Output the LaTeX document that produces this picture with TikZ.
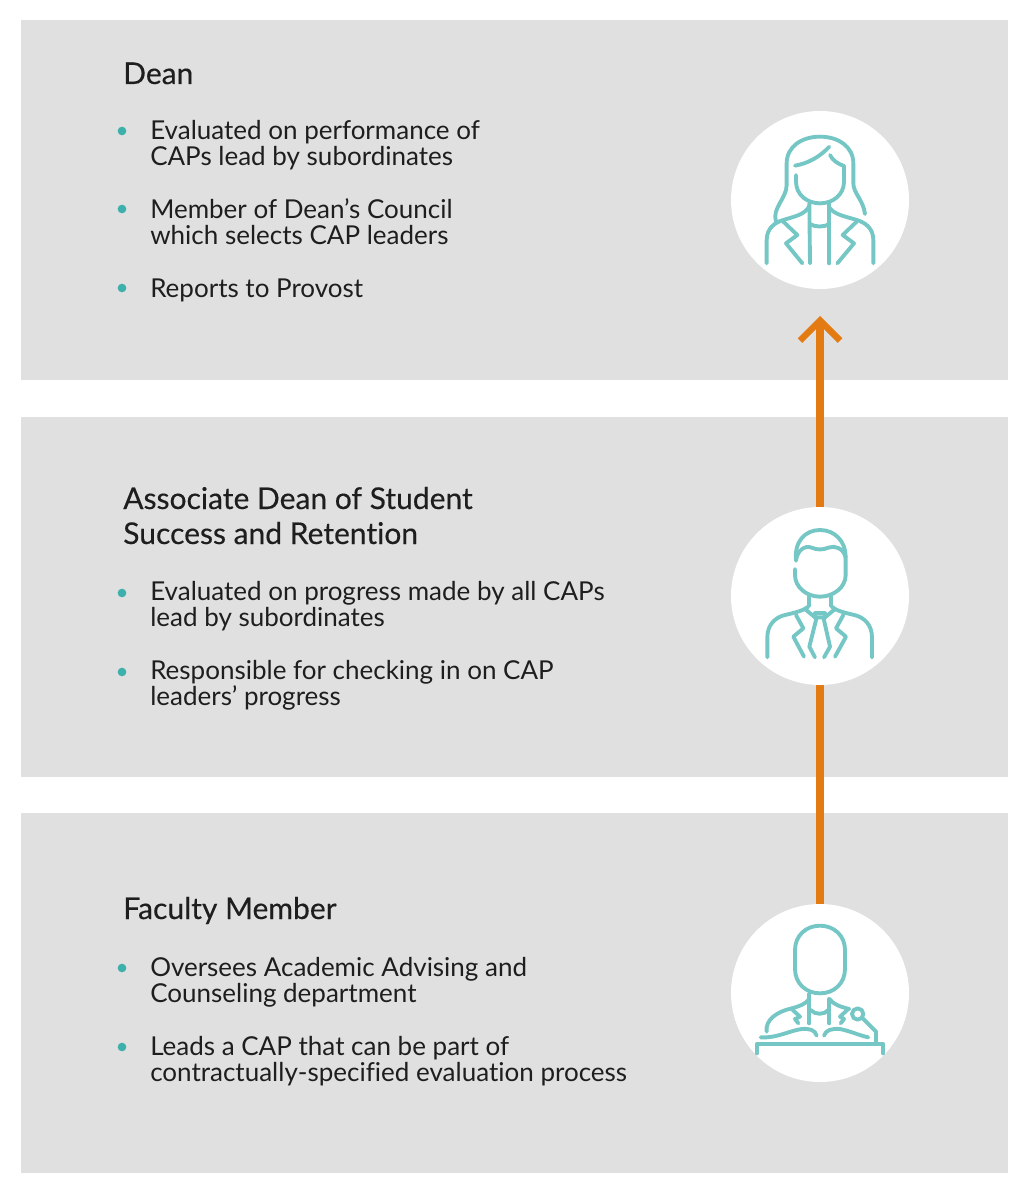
\documentclass[tikz,border=0pt]{standalone}
\usepackage{fontspec}
\setmainfont[Ligatures=NoCommon]{Lato}
\usepackage{tikz}
\usetikzlibrary{arrows.meta, positioning, backgrounds}
\definecolor{panelgray}{HTML}{E0E0E0}
\definecolor{icontealc}{HTML}{75C7C6}
\definecolor{bulletteal}{HTML}{3DB0AC}
\definecolor{ladderorange}{HTML}{E37A12}
\definecolor{textblack}{HTML}{1E1E1E}
\tikzset{
    panel/.style={rectangle, fill=panelgray, inner sep=0pt, minimum width=740.25pt, minimum height=270pt},
    disc/.style={circle, fill=white, inner sep=0pt, minimum size=133.5pt},
    heading/.style={anchor=base west, inner sep=0pt, align=left, text=textblack, font=\fontsize{22.5}{26}\selectfont\addfontfeature{FakeBold=0.3}},
    item/.style={anchor=base west, inner sep=0pt, align=left, text=textblack, font=\fontsize{19.5}{20}\selectfont},
    dot/.style={circle, fill=bulletteal, inner sep=0pt, minimum size=6.5pt},
    iconline/.style={draw=icontealc, line width=2.9pt, line cap=round, line join=round},
    iconbox/.style={shift={#1}, x=0.25pt, y=-0.25pt}
}
\begin{document}
\begin{tikzpicture}[x=0.75pt, y=-0.75pt]
    \useasboundingbox (0,0) rectangle (1028,1188);

    \node[disc] (dean) at (820,200) {};
    \node[disc] (assoc) at (820,596) {};
    \node[disc] (faculty) at (820,993) {};
    \coordinate (tip) at (820,316);

    \begin{scope}[on background layer]
        \fill[white] (0,0) rectangle (1028,1188);
        \node[panel] (deanpanel) at (514.5,200) {};
        \node[panel] (assocpanel) at (514.5,596.5) {};
        \node[panel] (facultypanel) at (514.5,992.5) {};
        \draw[ladderorange, line width=6pt, -{Straight Barb[length=15pt, width=30pt, line width=4.8pt]}] (faculty) -- (tip);
    \end{scope}

    % Dean
    \node[heading] (deanhead) at (123,84) {Dean};
    \node[dot] (d1) at (122,131) {};
    \node[item] (deanone) at (150,139.5) {Evaluated on performance of};
    \node[item] (deanonb) at (150,165.5) {CAPs lead by subordinates};
    \node[dot] (d2) at (122,209) {};
    \node[item] (deantwo) at (150,218.5) {Member of Dean’s Council};
    \node[item] (deantwb) at (150,244.5) {which selects CAP leaders};
    \node[dot] (d3) at (122,288) {};
    \node[item] (deanthree) at (150,297.5) {Reports to Provost};

    % Associate dean
    \node[heading] (assochead) at (123,509) {Associate Dean of Student};
    \node[heading] (assocheb) at (123,544) {Success and Retention};
    \node[dot] (a1) at (122,593) {};
    \node[item] (assocone) at (150,600.5) {Evaluated on progress made by all CAPs};
    \node[item] (assoconb) at (150,626.5) {lead by subordinates};
    \node[dot] (a2) at (122,672) {};
    \node[item] (assoctwo) at (150,679.5) {Responsible for checking in on CAP};
    \node[item] (assoctwb) at (150,705.5) {leaders’ progress};

    % Faculty member
    \node[heading] (facultyhead) at (123,919) {Faculty Member};
    \node[dot] (f1) at (122,968) {};
    \node[item] (facultyone) at (150,976.5) {Oversees Academic Advising and};
    \node[item] (facultyonb) at (150,1002.5) {Counseling department};
    \node[dot] (f2) at (122,1047) {};
    \node[item] (facultytwo) at (150,1055.5) {Leads a CAP that can be part of};
    \node[item] (facultytwb) at (150,1081.5) {contractually-specified evaluation process};

    % Icons
    \begin{scope}[iconbox={(720,100)}]
        \draw[iconline] (140,490) -- (140,420) .. controls (140,385) and (165,367) .. (190,360) .. controls (220,350) and (255,345) .. (268,318);
        \draw[iconline] (460,490) -- (460,420) .. controls (460,385) and (435,367) .. (410,360) .. controls (380,350) and (345,345) .. (330,325);
        \draw[iconline] (268,310) -- (270,490);
        \draw[iconline] (328,310) -- (328,490);
        \draw[iconline] (270,372) .. controls (285,382) and (313,382) .. (328,372);
        \draw[iconline] (190,365) -- (232,405) -- (198,430) -- (247,490);
        \draw[iconline] (410,365) -- (368,405) -- (402,430) -- (352,490);
        \draw[iconline] (228,225) -- (228,245) .. controls (228,285) and (262,310) .. (300,310) .. controls (338,310) and (372,285) .. (372,245) -- (372,198) .. controls (355,192) and (338,182) .. (330,165);
        \draw[iconline] (225,197) .. controls (265,190) and (300,170) .. (328,140);
        \draw[iconline] (168,365) .. controls (155,325) and (200,295) .. (200,255) -- (200,190) .. controls (200,140) and (245,110) .. (300,110) .. controls (355,110) and (400,140) .. (400,190) -- (400,250) .. controls (400,280) and (430,300) .. (435,342);
    \end{scope}
    \begin{scope}[iconbox={(720,500)}]
        \draw[iconline] (228,182) .. controls (222,125) and (255,90) .. (300,90) .. controls (345,90) and (377,125) .. (377,170) -- (377,225) .. controls (377,262) and (340,290) .. (300,290) .. controls (260,290) and (225,262) .. (225,225) -- (225,207);
        \draw[iconline] (228,182) .. controls (232,150) and (255,135) .. (275,143) .. controls (290,150) and (310,150) .. (325,143) .. controls (345,135) and (370,145) .. (377,172);
        \draw[iconline] (268,290) -- (268,317);
        \draw[iconline] (332,290) -- (332,317);
        \draw[iconline] (142,472) -- (142,412) .. controls (142,375) and (165,352) .. (195,345) .. controls (225,338) and (250,332) .. (265,320);
        \draw[iconline] (456,472) -- (456,412) .. controls (456,375) and (433,352) .. (403,345) .. controls (373,338) and (348,332) .. (335,320);
        \draw[iconline] (256,328) -- (285,352) -- (315,352) -- (344,328);
        \draw[iconline] (285,352) -- (285,340) -- (315,340) -- (315,352);
        \draw[iconline] (290,352) -- (268,440) -- (285,472);
        \draw[iconline] (310,352) -- (330,440) -- (312,472);
        \draw[iconline] (228,345) -- (250,385) -- (220,410) -- (252,470);
        \draw[iconline] (370,345) -- (348,385) -- (378,410) -- (345,470);
    \end{scope}
    \begin{scope}[iconbox={(720,895)}]
        \draw[iconline] (225,165) .. controls (225,122) and (258,92) .. (300,92) .. controls (342,92) and (375,122) .. (375,165) -- (375,222) .. controls (375,265) and (342,295) .. (300,295) .. controls (258,295) and (225,265) .. (225,222) -- cycle;
        \draw[iconline] (268,297) -- (268,385);
        \draw[iconline] (328,312) -- (328,385);
        \draw[iconline] (272,345) .. controls (285,360) and (313,360) .. (325,345);
        \draw[iconline] (140,410) .. controls (135,375) and (170,350) .. (215,340) .. controls (240,333) and (255,328) .. (268,312);
        \draw[iconline] (328,312) .. controls (340,328) and (360,335) .. (388,342);
        \draw[iconline] (215,342) -- (240,365) -- (225,372) -- (235,385);
        \draw[iconline] (385,342) -- (360,365) -- (372,372) -- (362,385);
        \draw[iconline] (122,427) .. controls (170,430) and (205,408) .. (245,402) .. controls (270,400) and (285,405) .. (290,422);
        \draw[iconline] (312,422) .. controls (317,405) and (335,400) .. (360,402) .. controls (390,408) and (420,422) .. (445,427);
        \draw[iconline] (110,475) -- (110,447) -- (490,447) -- (490,475);
        \draw[iconline] (413,357) circle [radius=17];
        \draw[iconline] (428,370) -- (468,410) -- (468,440);
    \end{scope}
\end{tikzpicture}
\end{document}
